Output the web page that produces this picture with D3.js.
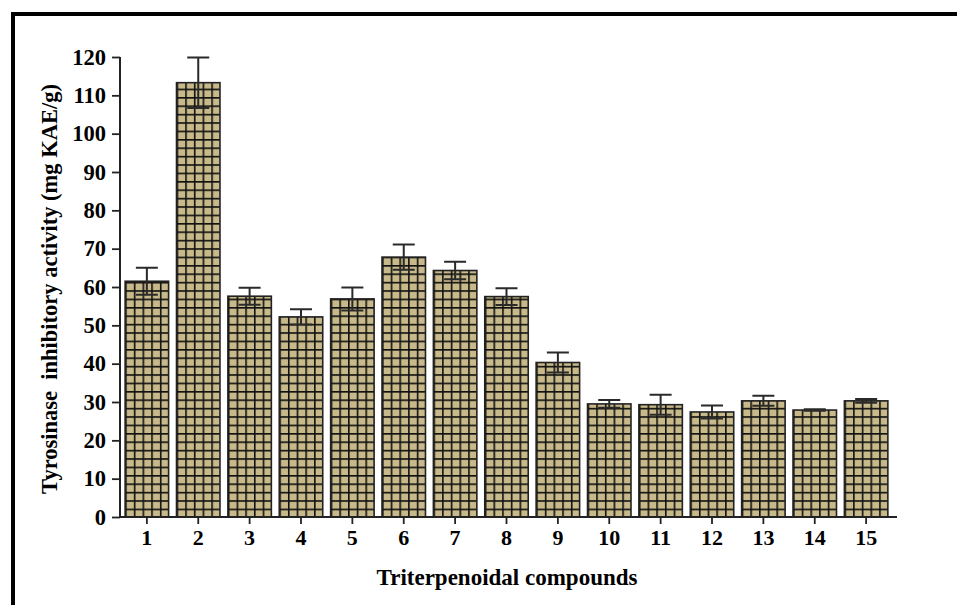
<!DOCTYPE html>
<html><head><meta charset="utf-8">
<script src="https://cdn.jsdelivr.net/npm/d3@7/dist/d3.min.js"></script>
<style>body{margin:0;background:#fff}svg{display:block}</style>
</head><body>
<svg id="c" width="957" height="605"></svg>
<script>
const categories = ["1","2","3","4","5","6","7","8","9","10","11","12","13","14","15"];
const values = [61.5,113.3,57.6,52.2,56.9,67.8,64.3,57.5,40.3,29.5,29.3,27.4,30.3,27.9,30.3];
const errors = [3.5,6.6,2.2,2.0,3.0,3.3,2.3,2.2,2.6,1.0,2.6,1.7,1.3,0.2,0.5];
const yTicks = [0,10,20,30,40,50,60,70,80,90,100,110,120];
const yLabel = "Tyrosinase  inhibitory activity (mg KAE/g)";
const xLabel = "Triterpenoidal compounds";

const svg = d3.select("#c");
const W = 957, H = 605;
const font = "'Liberation Serif','Times New Roman',serif";

// partial frame (top + left)
svg.append("rect").attr("x",11).attr("y",12).attr("width",W-11).attr("height",4).attr("fill","#000");
svg.append("rect").attr("x",11).attr("y",12).attr("width",4).attr("height",H-12).attr("fill","#000");

const x = d3.scaleBand().domain(categories).range([120,893]).paddingInner(0.154).paddingOuter(0.1);
const y = d3.scaleLinear().domain([0,120]).range([517,57]);

const defs = svg.append("defs");
const bw = x.bandwidth();
const cw = bw/5, ch = 8.4;
categories.forEach((c,i)=>{
  const p = defs.append("pattern").attr("id","pat"+i).attr("patternUnits","userSpaceOnUse")
    .attr("x",x(c)).attr("y",y(0)).attr("width",cw).attr("height",ch);
  p.append("rect").attr("width",cw).attr("height",ch).attr("fill","#c8b98a");
  p.append("path").attr("d",`M0,0V${ch}M0,0H${cw}`).attr("stroke","#111").attr("stroke-width",3.2).attr("fill","none");
});

const g = svg.append("g");
g.selectAll("rect.bar").data(values).join("rect").attr("class","bar")
  .attr("x",(d,i)=>x(categories[i])).attr("y",d=>y(d))
  .attr("width",bw).attr("height",d=>y(0)-y(d))
  .attr("fill",(d,i)=>`url(#pat${i})`).attr("stroke","#222").attr("stroke-width",1.6);

// error bars
const eb = g.selectAll("g.err").data(values).join("g").attr("class","err")
  .attr("stroke","#2a2a2a").attr("stroke-width",2).attr("fill","none");
const capW = 22;
eb.append("path").attr("d",(d,i)=>{
  const cx = x(categories[i]) + bw/2;
  const t = y(d+errors[i]), b = y(d-errors[i]);
  return `M${cx},${b}V${t}M${cx-capW/2},${t}H${cx+capW/2}M${cx-capW/2},${b}H${cx+capW/2}`;
});

// axes
const ya = svg.append("g").attr("transform","translate(120,0)")
  .call(d3.axisLeft(y).tickValues(yTicks).tickSize(8).tickPadding(4).tickFormat(d3.format("d")));
ya.select(".domain").attr("stroke","#222").attr("stroke-width",2).attr("d","M0,57V517");
ya.selectAll(".tick line").attr("stroke","#222").attr("stroke-width",1.8);
ya.selectAll("text").attr("font-family",font).attr("font-weight","bold").attr("font-size",22.5).attr("fill","#000").attr("dx",-2);

const xa = svg.append("g").attr("transform","translate(0,517)")
  .call(d3.axisBottom(x).tickSize(7).tickPadding(5));
xa.select(".domain").attr("stroke","#222").attr("stroke-width",2).attr("d","M120,0H897");
xa.selectAll(".tick line").attr("stroke","#222").attr("stroke-width",1.8);
xa.selectAll("text").attr("font-family",font).attr("font-weight","bold").attr("font-size",22).attr("fill","#000");

svg.append("text").attr("transform","translate(57,289) rotate(-90)").attr("text-anchor","middle")
  .attr("font-family",font).attr("font-weight","bold").attr("font-size",22.5).attr("fill","#000")
  .attr("xml:space","preserve").style("white-space","pre").text(yLabel);
svg.append("text").attr("x",507).attr("y",585).attr("text-anchor","middle")
  .attr("font-family",font).attr("font-weight","bold").attr("font-size",23).attr("fill","#000").text(xLabel);
</script>
</body></html>
